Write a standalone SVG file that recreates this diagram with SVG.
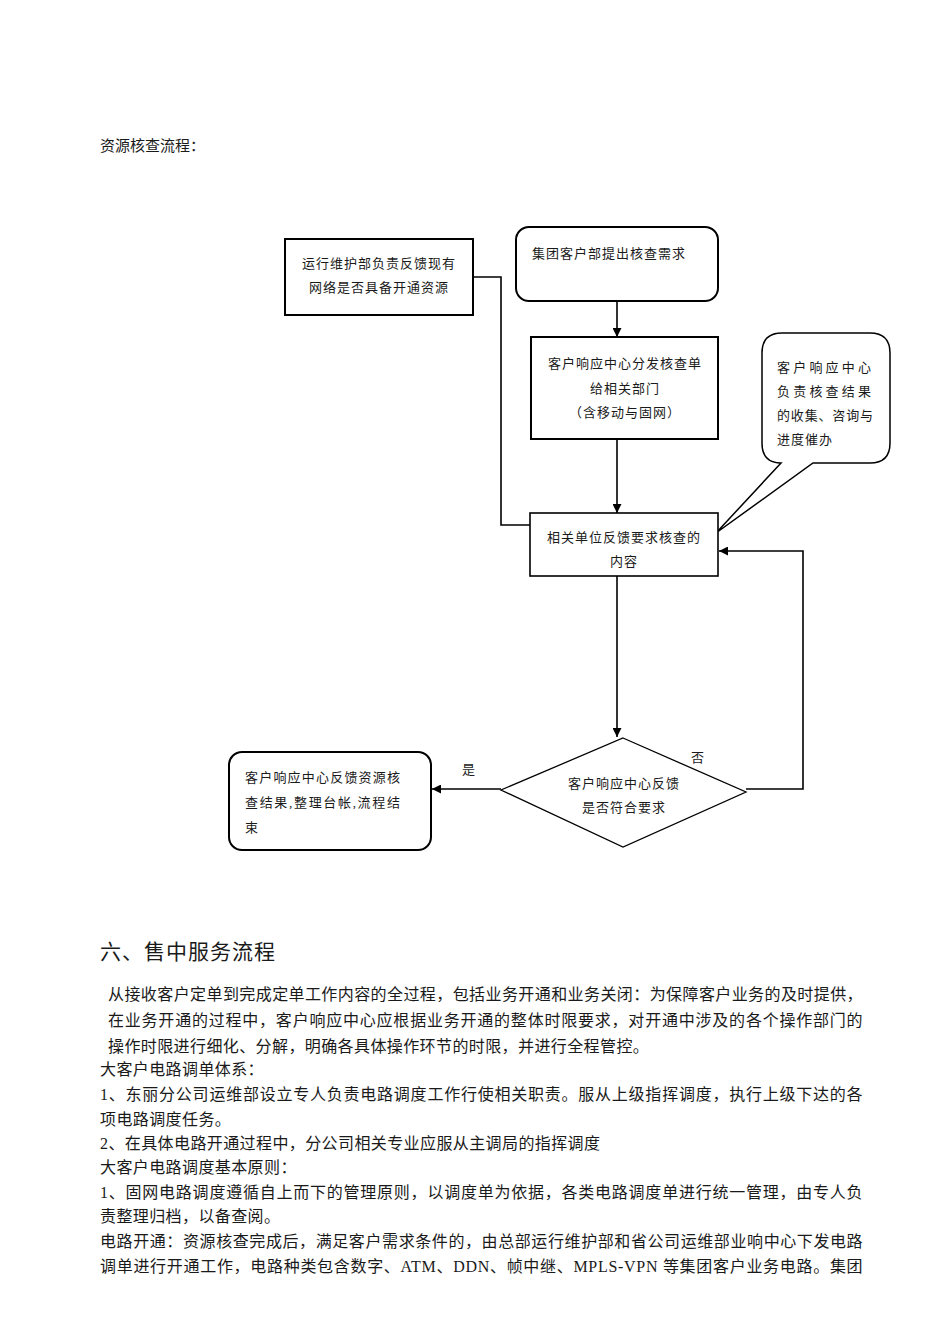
<svg xmlns="http://www.w3.org/2000/svg" width="950" height="1344" viewBox="0 0 950 1344">
<defs>
<style>
.t{font-family:"Liberation Serif","Noto Sans CJK SC",serif;fill:#1a1a1a}
.d{font-size:13px;letter-spacing:1px}
.b{font-size:16px;letter-spacing:0.4px}
.box{fill:#fff;stroke:#000}
.ln{fill:none;stroke:#000;stroke-width:1.6}
</style>
<marker id="ah" viewBox="0 0 10 10" refX="10" refY="5" markerWidth="9" markerHeight="9" markerUnits="userSpaceOnUse" orient="auto">
<path d="M0,0 L10,5 L0,10 Z" fill="#000"/>
</marker>
</defs>
<rect width="950" height="1344" fill="#fff"/>

<text class="t" x="100" y="151" font-size="15">资源核查流程：</text>

<g id="connectors">
<polyline class="ln" points="473,277 501,277 501,525 530,525"/>
<line class="ln" x1="617" y1="301" x2="617" y2="337" marker-end="url(#ah)"/>
<line class="ln" x1="617" y1="439" x2="617" y2="513" marker-end="url(#ah)"/>
<line class="ln" x1="617" y1="576" x2="617" y2="737" marker-end="url(#ah)"/>
<polyline class="ln" points="746,789 803,789 803,551 719,551" marker-end="url(#ah)"/>
<line class="ln" x1="501" y1="789" x2="432" y2="789" marker-end="url(#ah)"/>
<text class="t d" x="462" y="774">是</text>
<text class="t d" x="691" y="762">否</text>
</g>

<g id="n_ops">
<rect class="box" x="285" y="239" width="188" height="76" stroke-width="2"/>
<text class="t d" x="379" y="268" text-anchor="middle">运行维护部负责反馈现有</text>
<text class="t d" x="379" y="292" text-anchor="middle">网络是否具备开通资源</text>
</g>

<g id="n_start">
<rect class="box" x="516" y="227" width="202" height="74" rx="13" stroke-width="2"/>
<text class="t d" x="532" y="258">集团客户部提出核查需求</text>
</g>

<g id="n_dispatch">
<rect class="box" x="531" y="337" width="187" height="102" stroke-width="2"/>
<text class="t d" x="625" y="368" text-anchor="middle">客户响应中心分发核查单</text>
<text class="t d" x="625" y="393" text-anchor="middle">给相关部门</text>
<text class="t d" x="625" y="417" text-anchor="middle">（含移动与固网）</text>
</g>

<g id="n_callout">
<path class="box" stroke-width="1.5" d="M782,333 H870 Q890,333 890,353 V443 Q890,463 870,463 H813 L716,533 L781,463 Q762,463 762,443 V353 Q762,333 782,333 Z"/>
<text class="t" font-size="13" x="777" y="372" textLength="94" lengthAdjust="spacing">客户响应中心</text>
<text class="t" font-size="13" x="777" y="396" textLength="94" lengthAdjust="spacing">负责核查结果</text>
<text class="t" font-size="13" x="777" y="420" textLength="96" lengthAdjust="spacing">的收集、咨询与</text>
<text class="t d" x="777" y="444">进度催办</text>
</g>

<g id="n_feedback">
<rect class="box" x="530" y="513" width="188" height="63" stroke-width="1.6"/>
<text class="t d" x="624" y="542" text-anchor="middle">相关单位反馈要求核查的</text>
<text class="t d" x="624" y="566" text-anchor="middle">内容</text>
</g>

<g id="n_decision">
<polygon class="box" stroke-width="1.3" points="623,738 746,792 623,847 501,790"/>
<text class="t d" x="624" y="788" text-anchor="middle">客户响应中心反馈</text>
<text class="t d" x="624" y="812" text-anchor="middle">是否符合要求</text>
</g>

<g id="n_end">
<rect class="box" x="229" y="752" width="202" height="98" rx="13" stroke-width="2"/>
<text class="t" font-size="13" x="245" y="782" textLength="155" lengthAdjust="spacing">客户响应中心反馈资源核</text>
<text class="t" font-size="13" x="245" y="807" textLength="155" lengthAdjust="spacing">查结果,整理台帐,流程结</text>
<text class="t d" x="245" y="832">束</text>
</g>

<text class="t" x="100" y="959" font-size="21" letter-spacing="1">六、售中服务流程</text>

<g id="body">
<text class="t b" x="108" y="1000" textLength="755" lengthAdjust="spacing">从接收客户定单到完成定单工作内容的全过程，包括业务开通和业务关闭：为保障客户业务的及时提供，</text>
<text class="t b" x="108" y="1026" textLength="755" lengthAdjust="spacing">在业务开通的过程中，客户响应中心应根据业务开通的整体时限要求，对开通中涉及的各个操作部门的</text>
<text class="t b" x="108" y="1052">操作时限进行细化、分解，明确各具体操作环节的时限，并进行全程管控。</text>
<text class="t b" x="100" y="1075">大客户电路调单体系：</text>
<text class="t b" x="100" y="1100" textLength="763" lengthAdjust="spacing">1、东丽分公司运维部设立专人负责电路调度工作行使相关职责。服从上级指挥调度，执行上级下达的各</text>
<text class="t b" x="100" y="1125">项电路调度任务。</text>
<text class="t b" x="100" y="1149">2、在具体电路开通过程中，分公司相关专业应服从主调局的指挥调度</text>
<text class="t b" x="100" y="1173">大客户电路调度基本原则：</text>
<text class="t b" x="100" y="1198" textLength="763" lengthAdjust="spacing">1、固网电路调度遵循自上而下的管理原则，以调度单为依据，各类电路调度单进行统一管理，由专人负</text>
<text class="t b" x="100" y="1222">责整理归档，以备查阅。</text>
<text class="t b" x="100" y="1247" textLength="763" lengthAdjust="spacing">电路开通：资源核查完成后，满足客户需求条件的，由总部运行维护部和省公司运维部业响中心下发电路</text>
<text class="t b" x="100" y="1272" textLength="763" lengthAdjust="spacing">调单进行开通工作，电路种类包含数字、ATM、DDN、帧中继、MPLS-VPN 等集团客户业务电路。集团</text>
</g>
</svg>
